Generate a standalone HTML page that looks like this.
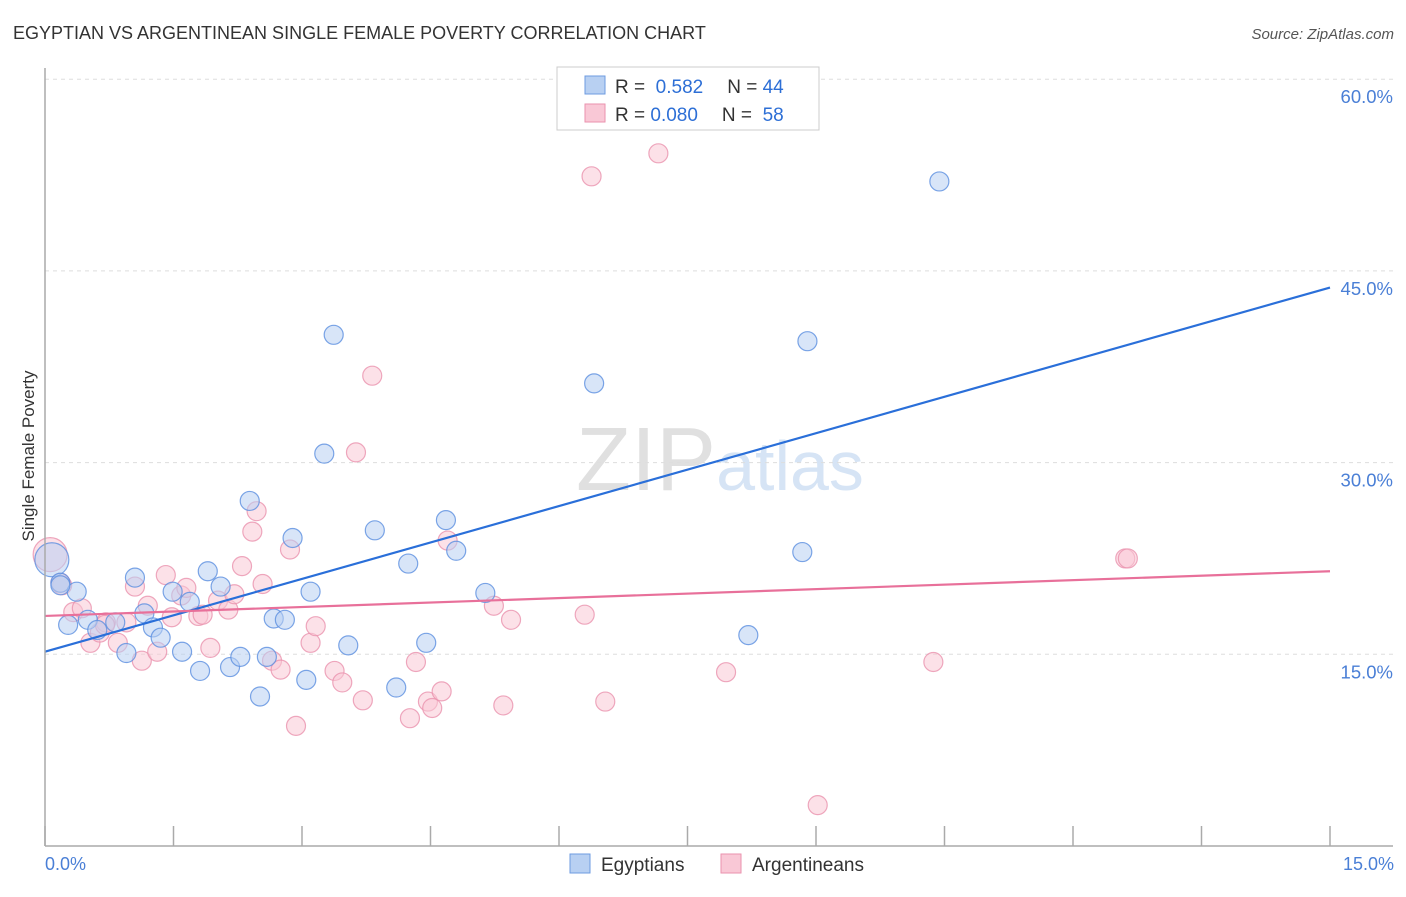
<!DOCTYPE html>
<html><head><meta charset="utf-8"><style>
body{margin:0;background:#fff;font-family:"Liberation Sans",sans-serif;}
svg text{font-family:"Liberation Sans",sans-serif;}
</style></head><body>
<svg id="chart" width="1406" height="892" xmlns="http://www.w3.org/2000/svg">
<text x="13" y="39" font-size="18" fill="#333">EGYPTIAN VS ARGENTINEAN SINGLE FEMALE POVERTY CORRELATION CHART</text>
<text x="1394" y="39" font-size="15" fill="#555" text-anchor="end" font-style="italic">Source: ZipAtlas.com</text>
<text transform="translate(34,456) rotate(-90)" font-size="17" fill="#333" text-anchor="middle">Single Female Poverty</text>
<text x="720" y="490" font-size="90" fill="#e0e0e0" text-anchor="middle" font-family="Liberation Serif">ZIP<tspan fill="#d6e4f5" font-family="Liberation Sans" font-size="70">atlas</tspan></text>
<g id="grid"></g><g id="pts"></g><g id="lines"></g>
<line x1="45" y1="68" x2="45" y2="846" stroke="#aaa" stroke-width="1.5"/>
<line x1="45" y1="846" x2="1393" y2="846" stroke="#aaa" stroke-width="1.5"/>
<text x="45" y="870" font-size="18" fill="#4a7fd6">0.0%</text>
<text x="1394" y="870" font-size="18" fill="#4a7fd6" text-anchor="end">15.0%</text>
<g>
<rect x="557" y="67" width="262" height="63" fill="#fff" stroke="#ccc"/>
<rect x="585" y="76" width="20" height="18" fill="#b8d0f2" stroke="#6e9be0"/>
<rect x="585" y="104" width="20" height="18" fill="#f9c8d6" stroke="#ea92ae"/>
<text x="615" y="93" font-size="19" fill="#333">R = <tspan fill="#2d6fd6">&#160;0.582</tspan><tspan dx="24">N = </tspan><tspan fill="#2d6fd6">44</tspan></text>
<text x="615" y="121" font-size="19" fill="#333">R = <tspan fill="#2d6fd6">0.080</tspan><tspan dx="24">N = </tspan><tspan fill="#2d6fd6">&#160;58</tspan></text>
</g>
<g>
<rect x="570" y="854" width="20" height="19" fill="#b8d0f2" stroke="#6e9be0"/>
<text x="601" y="871" font-size="19" fill="#333">Egyptians</text>
<rect x="721" y="854" width="20" height="19" fill="#f9c8d6" stroke="#ea92ae"/>
<text x="752" y="871" font-size="19" fill="#333">Argentineans</text>
</g>
</svg>
<script>
const yTicks=[15,30,45,60];
const yTickLabels=["15.0%","30.0%","45.0%","60.0%"];
const xTicks=[0,1.5,3,4.5,6,7.5,9,10.5,12,13.5,15];
const egyX=[0.08,0.18,0.37,0.27,0.50,0.61,0.82,0.95,1.05,1.16,1.26,1.35,1.49,1.60,1.69,1.81,1.90,2.05,2.16,2.28,2.39,2.51,2.59,2.67,2.80,2.89,3.05,3.10,3.26,3.37,3.54,3.85,4.10,4.24,4.45,4.68,4.80,5.14,6.41,8.21,8.84,8.90,10.44,0.18];
const egyY=[22.4,20.6,19.9,17.3,17.7,16.9,17.5,15.1,21.0,18.2,17.1,16.3,19.9,15.2,19.1,13.7,21.5,20.3,14.0,14.8,27.0,11.7,14.8,17.8,17.7,24.1,13.0,19.9,30.7,40.0,15.7,24.7,12.4,22.1,15.9,25.5,23.1,19.8,36.2,16.5,23.0,39.5,52.0,20.4];
const argX=[0.06,0.20,0.33,0.43,0.53,0.64,0.71,0.85,0.95,1.05,1.13,1.20,1.31,1.41,1.48,1.59,1.65,1.79,1.84,1.93,2.02,2.14,2.21,2.30,2.42,2.47,2.54,2.65,2.75,2.86,2.93,3.10,3.16,3.38,3.47,3.63,3.71,3.82,4.26,4.33,4.47,4.52,4.63,4.70,5.24,5.35,5.44,6.30,6.38,6.54,7.16,7.95,9.02,10.37,12.61,12.64,0.70,0.18];
const argY=[22.8,20.4,18.3,18.6,15.9,16.7,17.5,15.9,17.5,20.3,14.5,18.8,15.2,21.2,17.9,19.6,20.2,18.0,18.1,15.5,19.2,18.5,19.7,21.9,24.6,26.2,20.5,14.5,13.8,23.2,9.4,15.9,17.2,13.7,12.8,30.8,11.4,36.8,10.0,14.4,11.3,10.8,12.1,23.9,18.8,11.0,17.7,18.1,52.4,11.3,54.2,13.6,3.2,14.4,22.5,22.5,17.3,20.6];
const egyLine=[15.2,43.7];
const argLine=[18.0,21.5];
const xMax=15;
const NS="http://www.w3.org/2000/svg";
function sx(v){return 45+v/xMax*1285;}
function sy(v){return 846-v*12.78;}
function mk(tag,attrs,parent){const e=document.createElementNS(NS,tag);for(const k in attrs)e.setAttribute(k,attrs[k]);parent.appendChild(e);return e;}
const grid=document.getElementById('grid'),pts=document.getElementById('pts'),lines=document.getElementById('lines');
yTicks.forEach((t,i)=>{
 const l=mk('line',{x1:45,x2:1393,y1:sy(t),y2:sy(t),stroke:'#ddd','stroke-dasharray':'4,4'},grid);
 
 
 const tx=mk('text',{x:1393,y:sy(t)+24,'font-size':18.5,fill:'#4a7fd6','text-anchor':'end'},grid);
 tx.textContent=yTickLabels[i];
 
 
});
xTicks.forEach(t=>{
 const l=mk('line',{x1:sx(t),x2:sx(t),y1:826,y2:846,stroke:'#aaa','stroke-width':1.5},grid);
 
 
});
function drawPts(X,Y,fill,stroke,name){
 X.forEach((x,i)=>{
  const r=(i===0)?17:9.5;
  const c=mk('circle',{cx:sx(x),cy:sy(Y[i]),r:r,fill:fill,'fill-opacity':0.55,stroke:stroke,'stroke-width':1.2,'stroke-opacity':0.8},pts);
  
  
 });
}
drawPts(argX,argY,'#f9c8d6','#ea92ae','argentinean-point');
drawPts(egyX,egyY,'#b8d0f2','#5b8ee0','egyptian-point');
const bl=mk('line',{x1:sx(0),y1:sy(egyLine[0]),x2:sx(xMax),y2:sy(egyLine[1]),stroke:'#2a6fd9','stroke-width':2.2},lines);


const pl=mk('line',{x1:sx(0),y1:sy(argLine[0]),x2:sx(xMax),y2:sy(argLine[1]),stroke:'#e8709a','stroke-width':2.2},lines);


</script>
</body></html>
